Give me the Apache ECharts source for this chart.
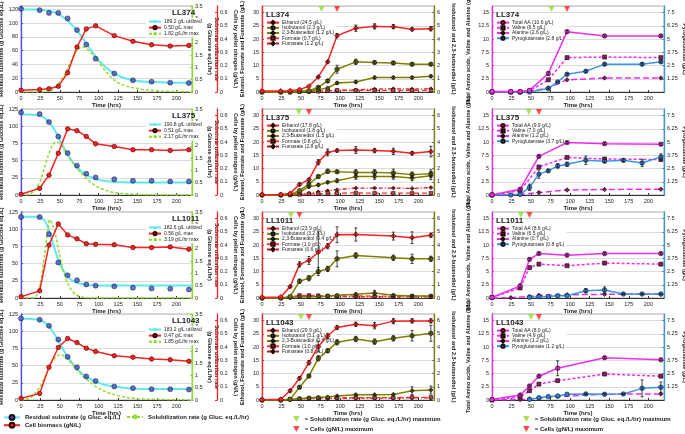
<!DOCTYPE html>
<html><head><meta charset="utf-8">
<script src="https://cdn.jsdelivr.net/npm/echarts@6/dist/echarts.min.js"></script>
<style>html,body{margin:0;padding:0;background:#fff}#c{width:685px;height:434px}</style>
</head><body><div id="c"></div><script>
// ---------------- DATA ----------------
const strains = ['LL374','LL375','LL1011','LL1043'];
const hours = [0,24,36,48,60,72,84,96,120,144,168,192,216];

// Column 1: substrate / cells / solubilization
const substrateObs = [
 [121,119,115,115,107,90,69,48.5,27,17,15,13.6,13],
 [120,117.6,106,85,61,42.6,31,25.5,23,20.6,20.6,19.6,19.6],
 [117.6,117.6,92.8,51.6,33,25.8,19.8,17.9,16.9,14.9,13.9,13.4,12.4],
 [118.6,116.7,107.8,88,62.7,47.5,34.3,27.5,19.6,17.2,15.7,15.7,15.2]
];
const cellBiomass = [
 [0.013,0.018,0.025,0.043,0.145,0.34,0.477,0.50,0.426,0.383,0.357,0.347,0.352],
 [0.005,0.05,0.15,0.316,0.50,0.486,0.443,0.387,0.367,0.342,0.342,0.337,0.342],
 [0.01,0.054,0.40,0.56,0.477,0.447,0.41,0.406,0.403,0.381,0.381,0.386,0.369],
 [0.012,0.05,0.248,0.397,0.465,0.434,0.392,0.367,0.335,0.323,0.31,0.305,0.293]
];
const fitHours = [0,10,20,25,30,35,40,45,50,55,60,65,70,75,80,85,90,95,100,110,120,130,140,150,160,180,200,220];
const substrateFit = [
 [120,120,120,119.5,119,118,117,115,112,108,104,98,92,85,77,69,61,53,46,35,27,21.5,18,16,15,14,13.5,13.5],
 [117,117,116,115,112,107,100,91,80,69,59,50,43,37,32,28.5,26,24,22,20,19,18.5,18.3,18.2,18,18,18,18],
 [118,118,118,117,113,102,84,65,50,39,31,26,23,21,20,19,18.5,18.3,18,18,18,18,18,18,18,18,18,18],
 [118,118,117,116,113,108,101,92,82,72,63,55,48,42,37,33,30,27,25,21.5,19.5,18,17,16.5,16,16,16,16]
];
const rateHours = [0,5,10,15,20,25,30,35,37,40,45,50,55,60,65,70,75,80,85,90,95,100,110,120,130,140,150,160,180,200,220];
const solubilizationRate = [
 [0,0,0,0,0,0,0.01,0.03,0.04,0.08,0.2,0.4,0.65,0.95,1.3,1.6,1.78,1.82,1.75,1.6,1.43,1.22,0.8,0.48,0.3,0.2,0.14,0.09,0.04,0.02,0.01],
 [0,0,0.02,0.12,0.3,0.6,1.1,1.6,1.78,2.0,2.17,2.1,1.88,1.65,1.4,1.17,0.98,0.8,0.65,0.5,0.4,0.3,0.18,0.1,0.06,0.04,0.02,0.01,0,0,0],
 [0,0,0,0,0.1,0.6,1.7,2.9,3.19,3.05,2.5,1.7,1.05,0.6,0.32,0.15,0.07,0.03,0.01,0,0,0,0,0,0,0,0,0,0,0,0],
 [0,0.01,0.05,0.15,0.35,0.55,0.9,1.25,1.38,1.55,1.75,1.85,1.8,1.65,1.5,1.3,1.12,0.95,0.82,0.7,0.58,0.48,0.32,0.22,0.14,0.09,0.06,0.04,0.02,0.01,0]
];
const utilizedLabels = ['189.2 g/L utilized','190.8 g/L utilized','182.6 g/L utilized','183.2 g/L utilized'];
const cellMaxLabels = ['0.50 g/L max','0.51 g/L max','0.56 g/L max','0.47 g/L max'];
const rateMaxLabels = ['1.82 g/L/hr max','2.17 g/L/hr max','3.19 g/L/hr max','1.85 g/L/hr max'];

// Column 2: fermentation products
const ethanol = [
 [0.4,0.4,0.5,0.9,2.2,5.7,11.4,21.3,24.1,24.8,24.7,23.7,23.9],
 [0.1,0.2,0.6,4.0,5.8,12.4,16.1,16.8,17.0,16.8,16.5,15.8,16.4],
 [0.25,0.4,4.3,12.7,14.2,17.3,19.6,23.9,24.0,null,23.4,22.8,23.7],
 [0.1,0.3,3.5,8.2,14.1,20.2,24.2,27.4,28.6,28.1,29.8,29.9,29.9]
];
const ethanolErr = [
 [0,0,0,0,0,0.3,0.5,0.8,1.2,1.0,0.8,0.6,0.8],
 [0,0,0,0.5,0.5,1.0,1.3,0.6,1.3,0.8,1.2,0.6,2.0],
 [0,0,0.4,1.0,1.5,8.0,1.0,3.0,2.5,null,1.5,2.2,0.8],
 [0,0,0.5,0.6,0.8,2.0,1.0,0.8,0.8,1.2,1.0,0.8,0.8]
];
const isobutanol = [
 [0,0,0,0.05,0.1,0.35,0.84,1.72,2.28,2.23,2.2,2.1,2.1],
 [0,0,0.05,0.33,0.83,1.39,1.79,1.76,1.71,1.71,1.66,1.54,1.61],
 [0,0,0.1,1.27,1.5,2.0,2.2,2.96,3.22,null,3.04,2.96,2.96],
 [0,0,0.05,0.96,1.81,3.15,3.73,4.36,4.61,4.41,4.66,4.86,5.04]
];
const isobutanolErr = [
 [0,0,0,0,0,0.05,0.1,0.3,0.2,0.1,0.1,0.1,0.1],
 [0,0,0,0,0.1,0.1,0.15,0.1,0.2,0.2,0.3,0.2,0.3],
 [0,0,0,0.15,0.2,0.3,0.2,0.6,0.2,null,0.2,0.35,0.2],
 [0,0,0,0.1,0.1,0.2,0.15,0.2,0.2,0.2,0.2,0.4,0.6]
];
const butanediol = [
 [0,0,0,0.02,0.05,0.18,0.3,0.68,0.76,1.09,1.09,1.09,1.19],
 [0,0,0.02,0.2,0.63,0.76,0.96,1.08,1.39,1.39,1.39,1.28,1.46],
 [0,0,0.05,0.1,0.1,0.12,0.15,0.2,0.28,0.38,0.2,0.15,0.15],
 [0,0,0.02,0.1,0.15,0.2,0.22,0.3,0.4,0.4,0.42,0.7,0.75]
];
const butanediolErr = [
 [0,0,0,0,0,0,0,0.1,0.1,0.1,0.1,0.1,0.1],
 [0,0,0,0,0.1,0.1,0.1,0.15,0.2,0.2,0.2,0.2,0.3],
 [0,0,0,0,0,0,0,0,0.1,0.2,0.1,0.05,0.05],
 [0,0,0,0,0,0,0,0.05,0.05,0.05,0.05,0.3,0.3]
];
const formate = [
 [0,0,0,0.1,0.2,0.3,0.5,0.7,0.6,0.6,0.6,0.6,0.6],
 [0,0,0,0.2,0.4,0.5,0.6,0.7,0.8,0.7,0.7,0.7,0.7],
 [0,0,0.3,1.0,1.0,0.9,0.8,0.8,0.8,0.7,0.7,0.7,0.7],
 [0,0,0.3,0.5,0.7,0.8,0.8,0.8,0.9,0.9,0.9,1.0,1.0]
];
const fumarate = [
 [0,0,0,0.05,0.1,0.2,0.4,0.6,0.8,1.1,1.2,1.1,1.2],
 [0,0,0.1,0.3,0.7,1.2,1.6,2.0,2.6,2.6,2.6,2.5,2.8],
 [0,0,0.2,0.5,0.6,0.5,0.5,0.5,0.5,0.4,0.4,0.4,0.4],
 [0,0,0.2,0.4,0.5,0.6,0.6,0.6,0.7,0.7,0.7,0.8,0.8]
];
const ethanolLabels = ['Ethanol (24.5 g/L)','Ethanol (17.8 g/L)','Ethanol (23.9 g/L)','Ethanol (29.9 g/L)'];
const isobutanolLabels = ['Isobutanol (2.3 g/L)','Isobutanol (1.8 g/L)','Isobutanol (3.2 g/L)','Isobutanol (5.1 g/L)'];
const butanediolLabels = ['2,3-Butanediol (1.2 g/L)','2,3-Butanediol (1.5 g/L)','2,3-Butanediol (0.4 g/L)','2,3-Butanediol (0.8 g/L)'];
const formateLabels = ['Formate (0.7 g/L)','Formate (0.8 g/L)','Formate (1.0 g/L)','Formate (1.0 g/L)'];
const fumarateLabels = ['Fumarate (1.2 g/L)','Fumarate (2.8 g/L)','Fumarate (0.6 g/L)','Fumarate (0.8 g/L)'];

// Column 3: amino acids
const totalAA = [
 [0.1,0.1,0.1,0.3,null,3.5,null,11.4,null,10.6,null,null,10.6],
 [0.05,null,1.1,null,7.3,null,null,9.9,null,9.7,null,null,9.6],
 [0.1,null,2.3,7.3,8.4,null,null,8.1,null,8.4,null,null,8.4],
 [0.1,null,0.95,2.65,4.5,null,6.0,null,null,8.0,null,null,7.6]
];
const totalAAErr = [
 [0,0,0,0,null,0.3,null,0.3,null,0.2,null,null,0.2],
 [0,null,0.2,null,0.2,null,null,0.2,null,0.2,null,null,0.2],
 [0,null,0.3,0.2,0.2,null,null,0.2,null,0.2,null,null,0.2],
 [0,null,0.2,0.2,0.2,null,1.4,null,null,0.2,null,null,0.2]
];
const valine = [
 [0,0,0,0.2,null,2.3,null,6.5,null,6.6,null,null,6.5],
 [0,null,0.8,null,5.3,null,null,7.1,null,6.8,null,null,6.7],
 [0.1,null,1.9,5.75,6.4,null,null,6.1,null,6.6,null,null,6.4],
 [0,null,0.6,1.75,3.0,null,3.65,null,null,4.9,null,null,4.5]
];
const alanine = [
 [0,0,0,0.1,null,0.8,null,2.3,null,2.65,null,null,2.65],
 [0,null,0.1,null,0.45,null,null,0.95,null,1.05,null,null,1.1],
 [0,0.05,null,0.3,0.5,null,null,0.6,null,0.7,null,null,0.7],
 [0,null,0.1,0.2,0.35,null,0.65,null,null,1.1,null,null,1.15]
];
const pyroglutamate = [
 [0,0,0,0,null,0.32,0.95,1.68,1.96,2.63,null,2.63,2.85],
 [0,0,0.06,0.72,1.97,2.28,2.75,2.9,3.28,3.2,3.28,3.03,3.6],
 [null,null,null,0.06,0.12,0.15,0.22,0.22,0.69,0.75,0.38,0.38,0.38],
 [null,null,null,0.06,0.22,0.32,0.38,0.54,0.57,0.54,0.57,1.1,1.2]
];
const pyroErr = [
 [0,0,0,0,null,0.05,0.05,0.1,0.1,0.1,null,0.1,0.1],
 [0,0,0,0.3,0.4,0.1,0.2,0.2,0.4,0.15,0.15,0.35,0.3],
 [null,null,null,0,0,0,0,0,0.2,0.3,0.05,0.05,0.05],
 [null,null,null,0,0,0,0,0,0.05,0.05,0.05,0.8,0.5]
];
const totalAALabels = ['Total AA (10.6 g/L)','Total AA (9.9 g/L)','Total AA (8.6 g/L)','Total AA (8.0 g/L)'];
const valineLabels = ['Valine (6.5 g/L)','Valine (7.0 g/L)','Valine (6.5 g/L)','Valine (4.9 g/L)'];
const alanineLabels = ['Alanine (2.6 g/L)','Alanine (1.2 g/L)','Alanine (0.7 g/L)','Alanine (1.2 g/L)'];
const pyroLabels = ['Pyroglutamate (2.8 g/L)','Pyroglutamate (3.7 g/L)','Pyroglutamate (0.8 g/L)','Pyroglutamate (1.2 g/L)'];

// maxima markers (hours)
const solMaxHours = [76,47,37,50];
const cellMaxHours = [96,60,48,60];

// ---------------- LAYOUT / STYLE ----------------
const colLeft = [21, 262, 492];
const colWidth = [171, 172, 172];
const rowTop = [6, 109, 212, 314];
const rowHeight = 86;
const FONT = 'Liberation Sans';
const C = {cyan:'#5fe8ef', blue:'#3d4fc4', red:'#ff2020', green:'#8fdc2a', olive:'#7f7f00',
  mag:'#f02cf0', purple:'#7d1d66', pyro:'#3a97e0', dark:'#222'};

const grids=[], xAxes=[], yAxes=[], series=[], legends=[], titles=[];
const pairs = (xs, ys) => xs.map((x,i)=>[x, ys[i]]);
const errData = (xs, ys, es) => xs.map((x,i)=> (ys[i]==null||!es[i]) ? null : [x, ys[i]-es[i], ys[i]+es[i]]).filter(d=>d);

function addGrid(r,c){
  grids.push({left:colLeft[c], top:rowTop[r], width:colWidth[c], height:rowHeight, show:true,
    borderColor:'#9a9a9a', borderWidth:0.8, containLabel:false, outerBoundsMode:'none'});
  const gi = grids.length-1;
  xAxes.push({gridIndex:gi, type:'value', min:0, max:220, interval:25,
    axisLine:{show:true, onZero:false, lineStyle:{color:'#333', width:1}},
    axisTick:{show:true, inside:true, length:2, lineStyle:{color:'#333'}},
    axisLabel:{fontSize:5.5, color:'#222', margin:3, showMaxLabel:false, fontFamily:FONT},
    splitLine:{show:false},
    name:'Time (hrs)', nameLocation:'middle', nameGap:10,
    nameTextStyle:{fontSize:6, fontWeight:'bold', color:'#222', fontFamily:FONT}});
  return gi;
}
function addY(gi, o){
  yAxes.push({gridIndex:gi, type:'value', min:0, max:o.max, interval:o.interval,
    position:o.pos||'left', offset:o.offset||0,
    axisLine:{show:true, lineStyle:{color:o.color, width:1.3}},
    axisTick:{show:true, inside:true, length:2, lineStyle:{color:o.color}},
    axisLabel:{fontSize:5.5, color:'#222', margin:3, showMaxLabel:o.showMax||false, showMinLabel:o.showMin!==false, fontFamily:FONT},
    splitLine:{show:!!o.split, lineStyle:{color:'#d2d2d2', width:0.8}},
    name:o.name, nameLocation:'middle', nameGap:o.gap, nameRotate:(o.pos==='right'?-90:90),
    nameTextStyle:{fontSize:5.5, fontWeight:'bold', color:'#222', fontFamily:FONT, lineHeight:6.5}});
  return yAxes.length-1;
}
const mk = (color, border) => ({color:color, borderColor:border||'#222', borderWidth:0.6});
function legendBox(data, left, top, gap){
  legends.push({orient:'vertical', left:left, top:top, itemWidth:12, itemHeight:4, itemGap:gap,
    padding:[1,2], backgroundColor:'#fff', selectedMode:false, data:data,
    textStyle:{fontSize:5, lineHeight:5, color:'#222', fontFamily:FONT, padding:[0,0,0,-2]}});
}
function errorBars(gi, yi, data){
  series.push({type:'custom', xAxisIndex:gi, yAxisIndex:yi, data:data, silent:true, z:7, clip:false,
    renderItem:(params, api) => {
      const lo = api.coord([api.value(0), api.value(1)]);
      const hi = api.coord([api.value(0), api.value(2)]);
      const st = {stroke:'#1a1a1a', lineWidth:0.8};
      return {type:'group', children:[
        {type:'line', shape:{x1:lo[0], y1:lo[1], x2:hi[0], y2:hi[1]}, style:st},
        {type:'line', shape:{x1:lo[0]-1.5, y1:lo[1], x2:lo[0]+1.5, y2:lo[1]}, style:st},
        {type:'line', shape:{x1:hi[0]-1.5, y1:hi[1], x2:hi[0]+1.5, y2:hi[1]}, style:st}]};
    }});
}
const TRI = 'path://M0,0L10,0L5,9Z';
const SOL_MAX = '= Solubilization rate (g Gluc. eq./L/hr) maximum';
const CELL_MAX = '= Cells (gN/L) maximum';
const titleStyle = {fontSize:8, fontWeight:'bold', color:'#222', fontFamily:FONT};

for (let r=0; r<4; r++){
  // ---- column 1 ----
  let gi = addGrid(r,0);
  const yS = addY(gi,{max:125, interval:(r===0?20:25), color:'#5050ff', split:true, showMax:(r!==0),
     name:'Residual substrate (g Glucose eq./L)', gap:15});
  const yR = addY(gi,{max:3.5, interval:0.5, color:C.green, pos:'right', showMax:true,
     name:'Substrate utilization rate\n(g Glucose eq./L/hr)', gap:13});
  const yC = addY(gi,{max:0.65, interval:0.1, color:C.red, pos:'right', offset:25,
     name:'Cells by pellet nitrogen (gN/L)', gap:15});
  series.push({type:'line', name:utilizedLabels[r], xAxisIndex:gi, yAxisIndex:yS, data:pairs(fitHours, substrateFit[r]),
    showSymbol:false, symbol:'none', smooth:0.3, lineStyle:{color:C.cyan, width:2}, itemStyle:{color:C.cyan}, z:2});
  series.push({type:'scatter', xAxisIndex:gi, yAxisIndex:yS, data:pairs(hours, substrateObs[r]),
    symbol:'circle', symbolSize:5, itemStyle:mk(C.blue,'#111'), z:4});
  series.push({type:'line', name:rateMaxLabels[r], xAxisIndex:gi, yAxisIndex:yR, data:pairs(rateHours, solubilizationRate[r]),
    showSymbol:false, symbol:'none', smooth:0.3, lineStyle:{color:C.green, width:1.5, type:[3,2]}, itemStyle:{color:C.green}, z:3});
  series.push({type:'line', name:cellMaxLabels[r], xAxisIndex:gi, yAxisIndex:yC, data:pairs(hours, cellBiomass[r]),
    symbol:'circle', symbolSize:4.5, lineStyle:{color:C.red, width:1.5}, itemStyle:mk(C.red,'#300'), z:5});
  legendBox([utilizedLabels[r], cellMaxLabels[r], rateMaxLabels[r]], colLeft[0]+125, rowTop[r]+12, 1);
  titles.push({text:strains[r], left:colLeft[0]+151, top:rowTop[r]+3, padding:0, textStyle:titleStyle});

  // ---- column 2 ----
  gi = addGrid(r,1);
  const yE = addY(gi,{max:32.5, interval:5, color:C.red, split:true, name:'Ethanol, Formate and Fumarate (g/L)', gap:16});
  const yI = addY(gi,{max:6.5, interval:1, color:C.olive, pos:'right', name:'Isobutanol and 2,3-butanediol (g/L)', gap:16});
  series.push({type:'line', name:fumarateLabels[r], xAxisIndex:gi, yAxisIndex:yE, data:pairs(hours, fumarate[r]), connectNulls:true,
    symbol:'diamond', symbolSize:4, lineStyle:{color:'#d01818', width:1.3, type:[4,2,1,2]}, itemStyle:mk('#8a1010','#200'), z:3});
  series.push({type:'line', name:formateLabels[r], xAxisIndex:gi, yAxisIndex:yE, data:pairs(hours, formate[r]), connectNulls:true,
    symbol:'rect', symbolSize:3.5, lineStyle:{color:'#ff3030', width:1.3, type:[5,3]}, itemStyle:mk('#a05050','#300'), z:3});
  series.push({type:'line', name:butanediolLabels[r], xAxisIndex:gi, yAxisIndex:yI, data:pairs(hours, butanediol[r]), connectNulls:true,
    symbol:'diamond', symbolSize:4.5, lineStyle:{color:C.olive, width:1.5}, itemStyle:mk('#5a5a00','#111'), z:4});
  series.push({type:'line', name:isobutanolLabels[r], xAxisIndex:gi, yAxisIndex:yI, data:pairs(hours, isobutanol[r]), connectNulls:true,
    symbol:'circle', symbolSize:4.5, lineStyle:{color:C.olive, width:1.5}, itemStyle:mk('#6b6b00','#111'), z:4});
  series.push({type:'line', name:ethanolLabels[r], xAxisIndex:gi, yAxisIndex:yE, data:pairs(hours, ethanol[r]), connectNulls:true,
    symbol:'diamond', symbolSize:5, lineStyle:{color:C.red, width:1.5}, itemStyle:mk(C.red,'#300'), z:5});
  errorBars(gi, yE, errData(hours, ethanol[r], ethanolErr[r]));
  errorBars(gi, yI, errData(hours, isobutanol[r], isobutanolErr[r]));
  errorBars(gi, yI, errData(hours, butanediol[r], butanediolErr[r]));
  series.push({type:'scatter', name:SOL_MAX, xAxisIndex:gi, yAxisIndex:yE, data:[[solMaxHours[r], 32.5]], clip:false,
    symbol:'triangle', symbolRotate:180, symbolSize:[6,6], symbolOffset:[0,3], itemStyle:{color:C.green}, z:8});
  series.push({type:'scatter', name:CELL_MAX, xAxisIndex:gi, yAxisIndex:yE, data:[[cellMaxHours[r], 32.5]], clip:false,
    symbol:'triangle', symbolRotate:180, symbolSize:[6,6], symbolOffset:[0,3], itemStyle:{color:C.red}, z:8});
  legendBox([ethanolLabels[r], isobutanolLabels[r], butanediolLabels[r], formateLabels[r], fumarateLabels[r]], colLeft[1]+2, rowTop[r]+13, 0);
  titles.push({text:strains[r], left:colLeft[1]+4, top:rowTop[r]+5, padding:0, textStyle:titleStyle});

  // ---- column 3 ----
  gi = addGrid(r,2);
  const yA = addY(gi,{max:16.25, interval:2.5, color:C.mag, split:true, name:'Total Amino acids, Valine and Alanine (g/L)', gap:20});
  const yP = addY(gi,{max:8.125, interval:1.25, color:C.pyro, pos:'right', showMin:false, name:'Pyroglutamate (g/L)', gap:17});
  series.push({type:'line', name:alanineLabels[r], xAxisIndex:gi, yAxisIndex:yA, data:pairs(hours, alanine[r]), connectNulls:true,
    symbol:'diamond', symbolSize:4.5, lineStyle:{color:C.mag, width:1.5, type:[6,3]}, itemStyle:mk(C.purple,'#200'), z:3});
  series.push({type:'line', name:valineLabels[r], xAxisIndex:gi, yAxisIndex:yA, data:pairs(hours, valine[r]), connectNulls:true,
    symbol:'rect', symbolSize:4, lineStyle:{color:C.mag, width:1.5, type:[3,2]}, itemStyle:mk(C.purple,'#200'), z:3});
  series.push({type:'line', name:pyroLabels[r], xAxisIndex:gi, yAxisIndex:yP, data:pairs(hours, pyroglutamate[r]), connectNulls:true,
    symbol:'circle', symbolSize:4.5, lineStyle:{color:C.pyro, width:1.5}, itemStyle:mk('#2b7fd0','#112'), z:4});
  series.push({type:'line', name:totalAALabels[r], xAxisIndex:gi, yAxisIndex:yA, data:pairs(hours, totalAA[r]), connectNulls:true,
    symbol:'circle', symbolSize:4.5, lineStyle:{color:C.mag, width:1.5}, itemStyle:mk(C.mag,'#300'), z:5});
  errorBars(gi, yA, errData(hours, totalAA[r], totalAAErr[r]));
  errorBars(gi, yP, errData(hours, pyroglutamate[r], pyroErr[r]));
  series.push({type:'scatter', name:SOL_MAX, xAxisIndex:gi, yAxisIndex:yA, data:[[solMaxHours[r], 16.25]], clip:false,
    symbol:'triangle', symbolRotate:180, symbolSize:[6,6], symbolOffset:[0,3], itemStyle:{color:C.green}, z:8});
  series.push({type:'scatter', name:CELL_MAX, xAxisIndex:gi, yAxisIndex:yA, data:[[cellMaxHours[r], 16.25]], clip:false,
    symbol:'triangle', symbolRotate:180, symbolSize:[6,6], symbolOffset:[0,3], itemStyle:{color:C.red}, z:8});
  legendBox([totalAALabels[r], valineLabels[r], alanineLabels[r], pyroLabels[r]], colLeft[2]+2, rowTop[r]+13, 0);
  titles.push({text:strains[r], left:colLeft[2]+4, top:rowTop[r]+5, padding:0, textStyle:titleStyle});
}

// bottom legend dummy series (styles only)
const RES = 'Residual substrate (g Gluc. eq./L)', CB = 'Cell biomass (gN/L)', SR = 'Solubilization rate (g Gluc. eq./L/hr)';
series.push({type:'line', name:RES, xAxisIndex:0, yAxisIndex:0, data:[], symbol:'circle', symbolSize:5,
  lineStyle:{color:C.cyan, width:2}, itemStyle:mk(C.blue,'#111')});
series.push({type:'line', name:CB, xAxisIndex:0, yAxisIndex:0, data:[], symbol:'circle', symbolSize:5,
  lineStyle:{color:C.red, width:2}, itemStyle:mk(C.red,'#300')});
series.push({type:'line', name:SR, xAxisIndex:0, yAxisIndex:0, data:[], symbol:'none',
  lineStyle:{color:C.green, width:1.5, type:[3,2]}, itemStyle:{color:C.green}});
const btxt = {fontSize:6, fontWeight:'bold', color:'#222', fontFamily:FONT};
legends.push({orient:'vertical', left:3, top:414, itemWidth:16, itemHeight:6, itemGap:1, padding:0, selectedMode:false,
  data:[RES, CB], textStyle:btxt});
legends.push({orient:'vertical', left:126, top:414, itemWidth:16, itemHeight:6, itemGap:1, padding:0, selectedMode:false,
  data:[SR], textStyle:btxt});
[293, 523].forEach(l => legends.push({orient:'vertical', left:l, top:416, itemWidth:7, itemHeight:6, itemGap:4, padding:0,
  selectedMode:false, data:[{name:SOL_MAX, icon:TRI}, {name:CELL_MAX, icon:TRI}], textStyle:btxt}));

const chart = echarts.init(document.getElementById('c'), null, {renderer:'canvas', width:685, height:434});
chart.setOption({
  animation:false, backgroundColor:'#fff',
  textStyle:{fontFamily:FONT},
  title:titles, grid:grids, xAxis:xAxes, yAxis:yAxes, legend:legends, series:series
});
</script></body></html>
